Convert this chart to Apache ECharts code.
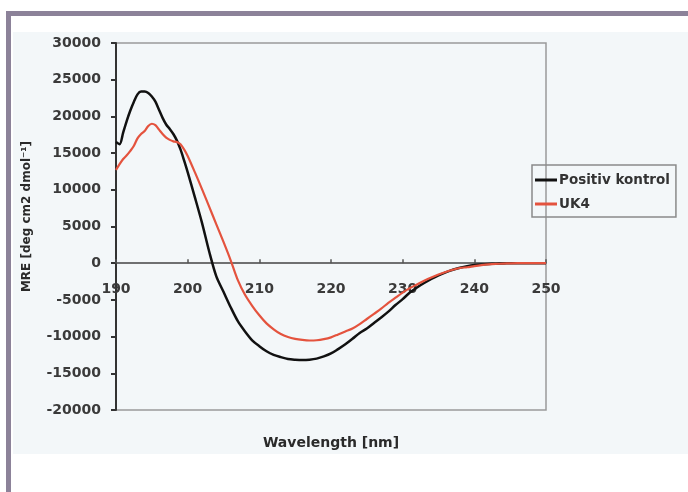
<!DOCTYPE html>
<html>
<head>
<meta charset="utf-8">
<script src="https://cdn.jsdelivr.net/npm/echarts@6/dist/echarts.min.js"></script>
<style>
  html, body { margin: 0; padding: 0; background: #ffffff; }
  #frameTop { position: absolute; left: 6px; top: 11px; width: 682px; height: 5px; background: #8c8299; }
  #frameLeft { position: absolute; left: 6px; top: 11px; width: 5px; height: 481px; background: #8c8299; }
  #panel { position: absolute; left: 13px; top: 32px; width: 675px; height: 422px; background: #f3f7f9; }
  #chart { position: absolute; left: 0; top: 0; width: 688px; height: 492px; }
</style>
</head>
<body>
<div id="frameTop"></div>
<div id="frameLeft"></div>
<div id="panel"></div>
<div id="chart"></div>
<script>
// Wavelength (nm) sample points
const wavelengths = [190,190.5,191,191.5,192,192.5,193,193.5,194,194.5,195,195.5,196,196.5,197,197.5,198,198.5,199,199.5,
  200,201,202,203,204,205,206,207,208,209,210,211,212,213,214,215,216,217,218,219,220,221,222,223,224,225,226,227,228,229,
  230,231,232,233,234,235,236,237,238,239,240,241,242,243,244,245,246,247,248,249,250];

// Positiv kontrol (MRE)
const positivKontrol = [16500,16200,17800,19400,20800,22000,23000,23400,23400,23200,22700,22000,20900,19800,18900,18300,17600,16700,15500,14000,
  12400,9000,5500,1600,-1800,-3900,-6000,-7900,-9300,-10500,-11300,-12000,-12500,-12800,-13050,-13150,-13200,-13150,-13000,-12700,
  -12300,-11700,-11050,-10300,-9500,-8900,-8150,-7400,-6600,-5700,
  -4900,-4000,-3300,-2700,-2150,-1650,-1250,-900,-620,-400,-250,-170,-110,-60,-30,-10,0,0,0,0,0];

// UK4 (MRE)
const uk4 = [12700,13500,14200,14700,15300,16000,17000,17600,18000,18700,19000,18800,18200,17600,17100,16800,16600,16500,16200,15500,
  14600,12400,10100,7700,5300,2900,400,-2300,-4300,-5800,-7100,-8200,-9000,-9650,-10050,-10300,-10450,-10530,-10500,-10350,
  -10100,-9700,-9300,-8900,-8300,-7600,-6900,-6200,-5400,-4700,
  -4000,-3400,-2900,-2400,-1950,-1550,-1200,-900,-650,-550,-400,-270,-170,-100,-50,-20,0,0,0,0,0];

const seriesNames = ['Positiv kontrol', 'UK4'];
const xTicks = { min: 190, max: 250, interval: 10 };
const yTicks = { min: -20000, max: 30000, interval: 5000 };

const font = 'DejaVu Sans';
const gridTop = 43, gridBottom = 82, chartH = 492;
// x axis sits at y = 0: offset from grid bottom computed from the y range
const plotH = chartH - gridTop - gridBottom;
const zeroOffset = -plotH * (0 - yTicks.min) / (yTicks.max - yTicks.min);

const chart = echarts.init(document.getElementById('chart'), null, { renderer: 'canvas' });
chart.setOption({
  animation: false,
  backgroundColor: 'transparent',
  grid: {
    left: 116, right: 142, top: gridTop, bottom: gridBottom,
    outerBoundsMode: 'none',
    containLabel: false,
    show: true, borderColor: '#9a9a9a', borderWidth: 1.5, backgroundColor: 'transparent'
  },
  legend: {
    orient: 'vertical',
    left: 532, top: 165,
    width: 140,
    padding: [8, 6, 6, 3],
    itemGap: 10,
    itemWidth: 22, itemHeight: 3,
    icon: 'rect',
    borderColor: '#8a8a8a', borderWidth: 1.5,
    backgroundColor: 'transparent',
    textStyle: { fontFamily: font, fontSize: 13.5, fontWeight: 'bold', color: '#333', padding: [0, 0, 0, -3] },
    data: seriesNames
  },
  xAxis: {
    type: 'value',
    position: 'bottom',
    offset: zeroOffset,
    min: xTicks.min, max: xTicks.max, interval: xTicks.interval,
    name: 'Wavelength [nm]',
    nameLocation: 'middle',
    nameGap: 173,
    nameMoveOverlap: false,
    nameTextStyle: { fontFamily: font, fontSize: 14, fontWeight: 'bold', color: '#2a2a2a' },
    axisLine: { onZero: false, lineStyle: { color: '#444', width: 1.5 } },
    axisTick: { show: true, inside: true, length: 4, lineStyle: { color: '#555', width: 1.5 } },
    axisLabel: { fontFamily: font, fontSize: 14, fontWeight: 'bold', color: '#3a3a3a', margin: 19,
      showMinLabel: true, showMaxLabel: true, hideOverlap: false, formatter: v => String(v) },
    splitLine: { show: false }
  },
  yAxis: {
    type: 'value',
    min: yTicks.min, max: yTicks.max, interval: yTicks.interval,
    name: 'MRE [deg cm2 dmol⁻¹]',
    nameLocation: 'middle',
    nameGap: 83,
    nameMoveOverlap: false,
    nameTextStyle: { fontFamily: font, fontSize: 12, fontWeight: 'bold', color: '#2a2a2a', padding: [0, 0, 0, 20] },
    axisLine: { show: true, onZero: false, lineStyle: { color: '#333', width: 2 } },
    axisTick: { show: true, length: 5, lineStyle: { color: '#333', width: 2 } },
    axisLabel: { fontFamily: font, fontSize: 14, fontWeight: 'bold', color: '#3a3a3a', margin: 15,
      hideOverlap: false, formatter: v => String(v) },
    splitLine: { show: false }
  },
  series: [
    {
      name: seriesNames[0], type: 'line', showSymbol: false, smooth: 0.3,
      lineStyle: { color: '#111111', width: 2.5 }, itemStyle: { color: '#111111' },
      data: wavelengths.map((w, i) => [w, positivKontrol[i]])
    },
    {
      name: seriesNames[1], type: 'line', showSymbol: false, smooth: 0.3,
      lineStyle: { color: '#e4533e', width: 2.2 }, itemStyle: { color: '#e4533e' },
      data: wavelengths.map((w, i) => [w, uk4[i]])
    }
  ]
});
</script>
</body>
</html>
